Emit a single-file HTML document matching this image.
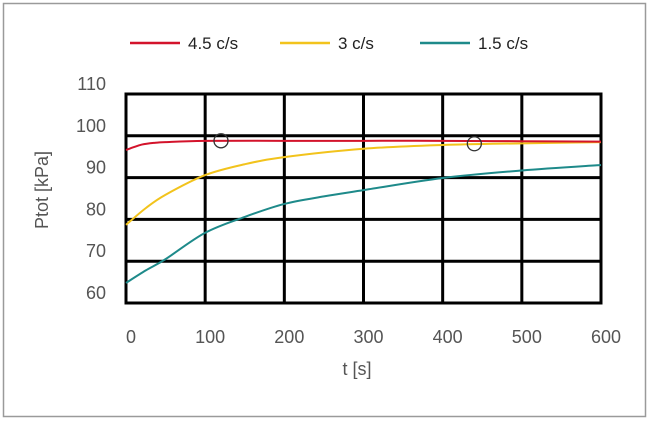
<!DOCTYPE html>
<html><head><meta charset="utf-8"><style>
body{margin:0;background:#fff;}
svg{display:block;font-family:"Liberation Sans",sans-serif;}
</style></head><body>
<svg id="chart" width="650" height="421">
<rect x="3.5" y="3.5" width="642" height="413" fill="#fff" stroke="#9a9a9a" stroke-width="1.5"/>
<g id="grid"></g>
<g id="series"></g>
<g id="legend"></g>
<text x="48" y="190" font-size="18" fill="#555" text-anchor="middle" transform="rotate(-90 48 190)">Ptot [kPa]</text>
<text x="357" y="375" font-size="18" fill="#555" text-anchor="middle">t [s]</text>
</svg>
<script>
const xTicks=[0,100,200,300,400,500,600];
const yTicks=[60,70,80,90,100,110];
const tRed=[0,10,20,35,50,100,200,300,400,500,600];
const vRed=[96.6,97.3,97.9,98.3,98.5,98.8,98.8,98.8,98.8,98.7,98.6];
const tYel=[0,25,50,100,150,200,300,400,500,600];
const vYel=[78.7,82.7,85.9,90.6,93.2,94.9,96.9,97.8,98.2,98.5];
const tTeal=[0,25,50,100,150,200,250,300,400,500,600];
const vTeal=[64.8,67.8,70.5,76.8,80.6,83.7,85.5,87.0,89.9,91.7,93.0];
const circT=[120,440];
const circV=[98.8,98.1];
const X=t=>126+t*(601-126)/600;
const Y=v=>303-(v-60)*(303-94)/50;
const NS="http://www.w3.org/2000/svg";
function mk(tag,parent,attrs){const e=document.createElementNS(NS,tag);for(const k in attrs)e.setAttribute(k,attrs[k]);parent.appendChild(e);return e;}
const grid=document.getElementById('grid');
xTicks.forEach(t=>{
 const l=mk('line',grid,{x1:X(t),x2:X(t),y1:Y(110),y2:Y(60),stroke:'#000','stroke-width':3});
 
 
 const tx=mk('text',grid,{x:X(t)+5,y:343,'font-size':18,fill:'#555','text-anchor':'middle'});
 tx.textContent=t;
 
 
});
yTicks.forEach(v=>{
 const l=mk('line',grid,{x1:X(0)-1.5,x2:X(600)+1.5,y1:Y(v),y2:Y(v),stroke:'#000','stroke-width':3});
 
 
 const tx=mk('text',grid,{x:106,y:Y(v)-4,'font-size':18,fill:'#555','text-anchor':'end'});
 tx.textContent=v;
 
 
});
const ser=document.getElementById('series');
function path(ts,vs){
 const P=ts.map((t,i)=>[X(t),Y(vs[i])]);
 let d='M'+P[0][0]+','+P[0][1];
 for(let i=0;i<P.length-1;i++){
  const p0=P[Math.max(0,i-1)],p1=P[i],p2=P[i+1],p3=P[Math.min(P.length-1,i+2)];
  const c1=[p1[0]+(p2[0]-p0[0])/6,p1[1]+(p2[1]-p0[1])/6];
  const c2=[p2[0]-(p3[0]-p1[0])/6,p2[1]-(p3[1]-p1[1])/6];
  d+=' C'+c1[0]+','+c1[1]+' '+c2[0]+','+c2[1]+' '+p2[0]+','+p2[1];
 }
 return d;
}
[[tTeal,vTeal,'#1e8a8a','series-1-5'],[tYel,vYel,'#f2c31c','series-3'],[tRed,vRed,'#d3132b','series-4-5']].forEach(s=>{
 const p=mk('path',ser,{d:path(s[0],s[1]),fill:'none',stroke:s[2],'stroke-width':2,'stroke-linejoin':'round'});
 
 
});
circT.forEach((t,i)=>{
 const c=mk('circle',ser,{cx:X(t),cy:Y(circV[i]),r:7,fill:'none',stroke:'#333','stroke-width':1.3});
 
 
});
const leg=document.getElementById('legend');
[['4.5 c/s','#d3132b',130],['3 c/s','#f2c31c',280],['1.5 c/s','#1e8a8a',420]].forEach(e=>{
 const l=mk('line',leg,{x1:e[2],x2:e[2]+50,y1:43,y2:43,stroke:e[1],'stroke-width':2.5});
 
 
 const t=mk('text',leg,{x:e[2]+58,y:49,'font-size':17,fill:'#222'});
 t.textContent=e[0];
 
 
});
</script>
</body></html>
